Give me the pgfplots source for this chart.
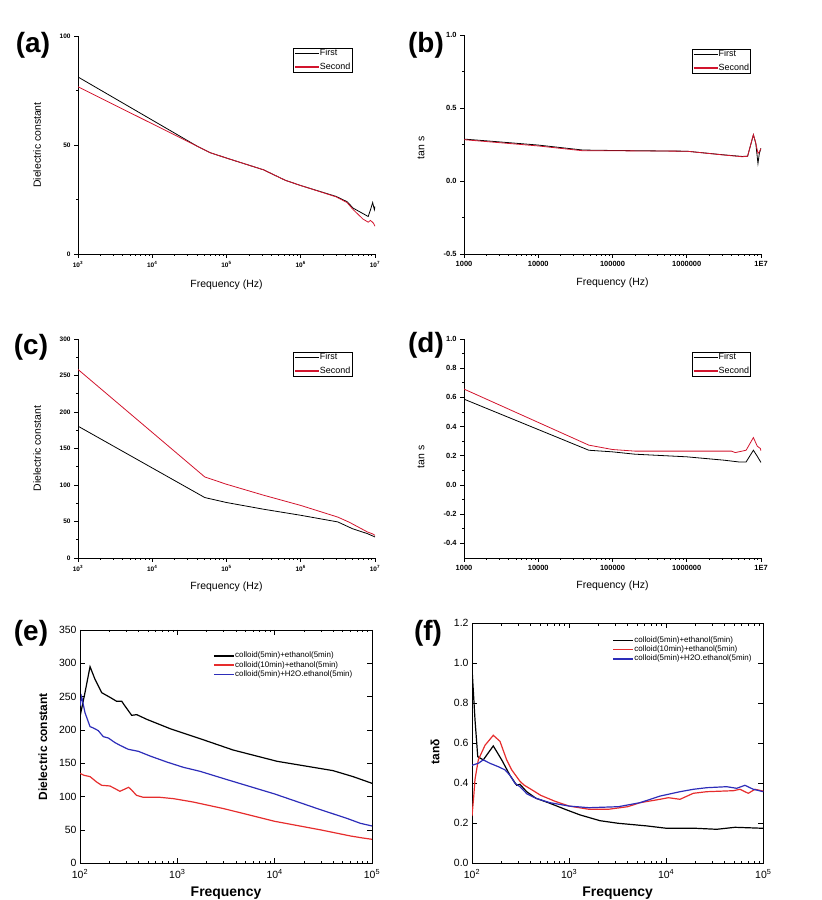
\documentclass[border=0pt]{standalone}
\usepackage{fontspec}
\setmainfont{Liberation Sans}
\usepackage{pgfplots}
\pgfplotsset{compat=1.18}
\pgfkeys{/pgf/number format/assume math mode=true}

\definecolor{oRed}{RGB}{210,20,45}
\definecolor{eRed}{RGB}{230,45,45}
\definecolor{eBlue}{RGB}{45,45,185}

\begin{document}
\begin{tikzpicture}
\path[use as bounding box] (0,0) rectangle (822bp,900bp);

% ---------------- (a)
\begin{axis}[xmode=log, xmin=1000, xmax=1e7, ymin=0, ymax=100,
  scale only axis, width=297bp, height=218bp, at={(78bp,646bp)}, anchor=south west,
  axis lines*=left, axis line style={line width=0.8bp},
  tick align=outside, major tick length=4bp, minor tick length=2bp,
  tick style={black, line width=0.6bp},
  xtick={1e3,1e4,1e5,1e6,1e7},
  xticklabels={10\textsuperscript{3},10\textsuperscript{4},10\textsuperscript{5},10\textsuperscript{6},10\textsuperscript{7}},
  ytick={0,50,100}, minor y tick num=1,
  tick label style={font=\bfseries\fontsize{6.5}{7}\selectfont},
  xlabel={Frequency (Hz)}, ylabel={Dielectric constant},
  label style={font=\fontsize{10.5}{12}\selectfont},
  xlabel style={at={(axis description cs:0.5,-0.142)}, anchor=center},
  ylabel style={at={(axis description cs:-0.138,0.5)}, anchor=center},
  legend cell align=left,
  legend style={draw=black, line width=0.6bp, font=\fontsize{9}{10}\selectfont,
    inner xsep=1bp, inner ysep=0.5bp, row sep=4bp,
    at={(axis description cs:0.923,0.945)}, anchor=north east,
    nodes={inner sep=0.5bp, text height=6.5bp, text depth=2bp}},
  legend image code/.code={\draw[#1, line width=1.2bp] (-2bp,0bp) -- (22bp,0bp);}]
\addplot[draw=black, line width=0.8bp] coordinates {(1000,81.2)(40000,49.5)(60000,46.5)(100000,44)(316000,38.6)(620000,33.8)(1000000,31.4)(3000000,26.4)(4200000,24)(5100000,21)(8100000,17.2)(8700000,20.3)(9300000,23.6)(9800000,20.3)(10000000,21.8)};
\addlegendentry{First}
\addplot[draw=oRed, line width=0.8bp] coordinates {(1000,76.7)(40000,49.5)(60000,46.5)(100000,44)(316000,38.6)(620000,33.8)(1000000,31.4)(3000000,26.2)(4200000,23.6)(5100000,20.3)(6900000,16)(8100000,14.6)(8700000,15.4)(9500000,14.2)(10000000,12.7)};
\addlegendentry{Second}
\end{axis}

% ---------------- (b)
\begin{axis}[xmode=log, xmin=1000, xmax=1e7, ymin=-0.5, ymax=1.0,
  scale only axis, width=297bp, height=219bp, at={(464bp,646bp)}, anchor=south west,
  axis lines*=left, axis line style={line width=0.8bp},
  tick align=outside, major tick length=4bp, minor tick length=2bp,
  tick style={black, line width=0.6bp},
  xtick={1e3,1e4,1e5,1e6,1e7},
  xticklabels={1000,10000,100000,1000000,1E7},
  ytick={-0.5,0,0.5,1.0}, minor y tick num=1,
  yticklabel style={/pgf/number format/.cd, fixed, fixed zerofill, precision=1},
  tick label style={font=\bfseries\fontsize{7.5}{8}\selectfont},
  xlabel={Frequency (Hz)}, ylabel={tan s},
  label style={font=\fontsize{10.5}{12}\selectfont},
  xlabel style={at={(axis description cs:0.5,-0.132)}, anchor=center},
  ylabel style={at={(axis description cs:-0.145,0.484)}, anchor=center},
  legend cell align=left,
  legend style={draw=black, line width=0.6bp, font=\fontsize{9}{10}\selectfont,
    inner xsep=1bp, inner ysep=0.5bp, row sep=4bp,
    at={(axis description cs:0.966,0.936)}, anchor=north east,
    nodes={inner sep=0.5bp, text height=6.5bp, text depth=2bp}},
  legend image code/.code={\draw[#1, line width=1.2bp] (-2bp,0bp) -- (22bp,0bp);}]
\addplot[draw=black, line width=0.8bp] coordinates {(1000,0.287)(2000,0.275)(10000,0.246)(40000,0.212)(100000,0.209)(1000000,0.204)(3160000,0.179)(5600000,0.168)(6600000,0.170)(7900000,0.316)(8500000,0.259)(9100000,0.12)(9500000,0.19)(10000000,0.225)};
\addlegendentry{First}
\addplot[draw=oRed, line width=0.8bp] coordinates {(1000,0.283)(10000,0.240)(40000,0.207)(100000,0.207)(1000000,0.204)(3160000,0.178)(5600000,0.166)(6600000,0.170)(7900000,0.318)(8500000,0.26)(9100000,0.19)(9500000,0.2)(10000000,0.222)};
\addlegendentry{Second}
\end{axis}

% ---------------- (c)
\begin{axis}[xmode=log, xmin=1000, xmax=1e7, ymin=0, ymax=300,
  scale only axis, width=297bp, height=219bp, at={(78bp,342bp)}, anchor=south west,
  axis lines*=left, axis line style={line width=0.8bp},
  tick align=outside, major tick length=4bp, minor tick length=2bp,
  tick style={black, line width=0.6bp},
  xtick={1e3,1e4,1e5,1e6,1e7},
  xticklabels={10\textsuperscript{3},10\textsuperscript{4},10\textsuperscript{5},10\textsuperscript{6},10\textsuperscript{7}},
  ytick={0,50,...,300}, minor y tick num=1,
  tick label style={font=\bfseries\fontsize{6.5}{7}\selectfont},
  xlabel={Frequency (Hz)}, ylabel={Dielectric constant},
  label style={font=\fontsize{10.5}{12}\selectfont},
  xlabel style={at={(axis description cs:0.5,-0.132)}, anchor=center},
  ylabel style={at={(axis description cs:-0.138,0.5)}, anchor=center},
  legend cell align=left,
  legend style={draw=black, line width=0.6bp, font=\fontsize{9}{10}\selectfont,
    inner xsep=1bp, inner ysep=0.5bp, row sep=4bp,
    at={(axis description cs:0.923,0.941)}, anchor=north east,
    nodes={inner sep=0.5bp, text height=6.5bp, text depth=2bp}},
  legend image code/.code={\draw[#1, line width=1.2bp] (-2bp,0bp) -- (22bp,0bp);}]
\addplot[draw=black, line width=0.8bp] coordinates {(1000,180.6)(51000,82.8)(100000,76)(316000,66.8)(1000000,58.5)(3160000,49.4)(5000000,40)(7900000,33.4)(10000000,28.8)};
\addlegendentry{First}
\addplot[draw=oRed, line width=0.8bp] coordinates {(1000,258.3)(51000,111)(100000,101)(316000,86)(1000000,72)(3160000,56)(4500000,49)(7900000,35.7)(9300000,33)(10000000,31)};
\addlegendentry{Second}
\end{axis}

% ---------------- (d)
\begin{axis}[xmode=log, xmin=1000, xmax=1e7, ymin=-0.5, ymax=1.0,
  scale only axis, width=297bp, height=219bp, at={(464bp,342bp)}, anchor=south west,
  axis lines*=left, axis line style={line width=0.8bp},
  tick align=outside, major tick length=4bp, minor tick length=2bp,
  tick style={black, line width=0.6bp},
  xtick={1e3,1e4,1e5,1e6,1e7},
  xticklabels={1000,10000,100000,1000000,1E7},
  ytick={-0.4,-0.2,0,0.2,0.4,0.6,0.8,1.0}, minor y tick num=1,
  yticklabel style={/pgf/number format/.cd, fixed, fixed zerofill, precision=1},
  tick label style={font=\bfseries\fontsize{7.5}{8}\selectfont},
  xlabel={Frequency (Hz)}, ylabel={tan s},
  label style={font=\fontsize{10.5}{12}\selectfont},
  xlabel style={at={(axis description cs:0.5,-0.128)}, anchor=center},
  ylabel style={at={(axis description cs:-0.145,0.461)}, anchor=center},
  legend cell align=left,
  legend style={draw=black, line width=0.6bp, font=\fontsize{9}{10}\selectfont,
    inner xsep=1bp, inner ysep=0.5bp, row sep=4bp,
    at={(axis description cs:0.966,0.941)}, anchor=north east,
    nodes={inner sep=0.5bp, text height=6.5bp, text depth=2bp}},
  legend image code/.code={\draw[#1, line width=1.2bp] (-2bp,0bp) -- (22bp,0bp);}]
\addplot[draw=black, line width=0.8bp] coordinates {(1000,0.588)(48000,0.238)(100000,0.227)(200000,0.211)(1000000,0.193)(3160000,0.17)(5000000,0.158)(6300000,0.158)(7900000,0.238)(8900000,0.197)(10000000,0.154)};
\addlegendentry{First}
\addplot[draw=oRed, line width=0.8bp] coordinates {(1000,0.657)(48000,0.273)(100000,0.243)(200000,0.232)(1000000,0.232)(4000000,0.232)(4500000,0.222)(6300000,0.238)(7900000,0.325)(8900000,0.266)(9800000,0.25)(10000000,0.234)};
\addlegendentry{Second}
\end{axis}

% ---------------- (e)
\begin{axis}[xmode=log, xmin=100, xmax=1e5, ymin=0, ymax=350,
  scale only axis, width=292bp, height=233.3bp, at={(80bp,36.7bp)}, anchor=south west,
  axis line style={line width=0.8bp},
  tick align=inside, major tick length=5bp, minor tick length=2.5bp,
  tick style={black, line width=0.7bp},
  xtick={100,1000,10000,100000},
  xticklabels={10\textsuperscript{2},10\textsuperscript{3},10\textsuperscript{4},10\textsuperscript{5}},
  xticklabel style={yshift=-3bp},
  ytick={0,50,...,350},
  tick label style={font=\fontsize{10.5}{12}\selectfont},
  xlabel={Frequency}, ylabel={Dielectric constant},
  xlabel style={font=\bfseries\fontsize{14}{16}\selectfont, at={(axis description cs:0.5,-0.127)}, anchor=center},
  ylabel style={font=\bfseries\fontsize{12}{14}\selectfont, at={(axis description cs:-0.127,0.5)}, anchor=center},
  legend cell align=left,
  legend style={draw=none, fill=none, font=\fontsize{8}{8}\selectfont,
    inner sep=0pt, row sep=0.8bp,
    at={(axis description cs:0.455,0.908)}, anchor=north west,
    nodes={inner sep=0.6bp, text height=5.6bp, text depth=1.6bp}},
  legend image code/.code={\draw[#1, line width=1.5bp] (0bp,0bp) -- (20bp,0bp);}]
\addplot[draw=black, line width=1.2bp] coordinates {(100,220)(112.5,256)(126.8,295)(142.6,276)(167.1,256)(203.2,249)(238.2,243)(268.5,243)(289.7,236)(339.6,222)(382.8,223)(485.3,216)(841.4,202)(1710,187)(3733,170)(10600,153)(39800,139)(63970,130)(100000,120)};
\addlegendentry{colloid(5min)+ethanol(5min)}
\addplot[draw=eRed, line width=1.2bp] coordinates {(100,135)(110,132)(127,130)(148,122)(167,117)(203,116)(229,112)(257,108)(316,114)(339,110)(380,102)(447,99)(661,99)(912,97)(1445,92)(3000,82)(10000,63)(30000,50)(60000,41)(80000,38)(100000,36)};
\addlegendentry{colloid(10min)+ethanol(5min)}
\addplot[draw=eBlue, line width=1.2bp] coordinates {(100,236)(104,250)(112.5,226)(126.8,205)(137.1,203)(154.2,199)(173.4,190)(195.4,188)(229.1,181)(257.6,177)(313.3,171)(397.2,168)(523.6,161)(778,152)(1153,144)(1710,138)(3162,126)(10000,104)(27500,82)(56200,67)(75900,60)(100000,56)};
\addlegendentry{colloid(5min)+H2O.ethanol(5min)}
\end{axis}

% ---------------- (f)
\begin{axis}[xmode=log, xmin=100, xmax=1e5, ymin=0, ymax=1.2,
  scale only axis, width=291.3bp, height=240bp, at={(472bp,36.7bp)}, anchor=south west,
  axis line style={line width=0.8bp},
  tick align=inside, major tick length=5bp, minor tick length=2.5bp,
  tick style={black, line width=0.7bp},
  xtick={100,1000,10000,100000},
  xticklabels={10\textsuperscript{2},10\textsuperscript{3},10\textsuperscript{4},10\textsuperscript{5}},
  xticklabel style={yshift=-3bp},
  ytick={0,0.2,0.4,0.6,0.8,1.0,1.2},
  yticklabel style={/pgf/number format/.cd, fixed, fixed zerofill, precision=1},
  tick label style={font=\fontsize{10.5}{12}\selectfont},
  xlabel={Frequency}, ylabel={tanδ},
  xlabel style={font=\bfseries\fontsize{14}{16}\selectfont, at={(axis description cs:0.5,-0.125)}, anchor=center},
  ylabel style={font=\bfseries\fontsize{12}{14}\selectfont, at={(axis description cs:-0.127,0.465)}, anchor=center},
  legend cell align=left,
  legend style={draw=none, fill=none, font=\fontsize{8}{8}\selectfont,
    inner sep=0pt, row sep=0.8bp,
    at={(axis description cs:0.481,0.947)}, anchor=north west,
    nodes={inner sep=0.6bp, text height=5.6bp, text depth=1.6bp}},
  legend image code/.code={\draw[#1, line width=1.5bp] (0bp,0bp) -- (20bp,0bp);}]
\addplot[draw=black, line width=1.2bp] coordinates {(100,0.97)(100.7,0.95)(107.4,0.717)(114.6,0.533)(130.6,0.517)(165.6,0.587)(202.3,0.517)(246,0.44)(288.4,0.39)(311.9,0.395)(365.6,0.358)(456,0.325)(635.3,0.30)(907.8,0.27)(1294,0.242)(2080,0.213)(3214,0.20)(6295,0.187)(10116,0.175)(20140,0.175)(33110,0.17)(51170,0.18)(100000,0.175)};
\addlegendentry{colloid(5min)+ethanol(5min)}
\addplot[draw=eRed, line width=1.2bp] coordinates {(100,0.236)(104,0.33)(107.4,0.42)(116.1,0.517)(136.1,0.59)(165.6,0.64)(194.1,0.61)(227.5,0.517)(256.4,0.467)(311.9,0.41)(345.9,0.39)(405.5,0.37)(509.3,0.34)(716.1,0.31)(1004.6,0.286)(1603,0.27)(2535,0.27)(4009,0.283)(5370,0.303)(8630,0.32)(10520,0.328)(13870,0.32)(19010,0.35)(26120,0.358)(49090,0.363)(57540,0.37)(69980,0.35)(82040,0.37)(100000,0.361)};
\addlegendentry{colloid(10min)+ethanol(5min)}
\addplot[draw=eBlue, line width=1.2bp] coordinates {(100,0.49)(116.1,0.50)(130.6,0.517)(153.1,0.50)(186.6,0.483)(218.8,0.467)(246,0.44)(277.3,0.40)(311.9,0.383)(368.1,0.347)(456,0.325)(635.3,0.303)(1004.6,0.286)(1603,0.278)(3214,0.283)(5370,0.303)(8630,0.336)(13870,0.358)(19010,0.37)(26120,0.378)(41980,0.383)(53210,0.375)(64710,0.39)(78890,0.37)(100000,0.358)};
\addlegendentry{colloid(5min)+H2O.ethanol(5min)}
\end{axis}

% panel letters
\node[font=\bfseries\fontsize{28}{28}\selectfont] at (33bp,855bp) {(a)};
\node[font=\bfseries\fontsize{28}{28}\selectfont] at (426bp,855bp) {(b)};
\node[font=\bfseries\fontsize{28}{28}\selectfont] at (31bp,553bp) {(c)};
\node[font=\bfseries\fontsize{28}{28}\selectfont] at (426bp,555bp) {(d)};
\node[font=\bfseries\fontsize{28}{28}\selectfont] at (31bp,267bp) {(e)};
\node[font=\bfseries\fontsize{28}{28}\selectfont] at (428bp,267bp) {(f)};
\end{tikzpicture}
\end{document}
